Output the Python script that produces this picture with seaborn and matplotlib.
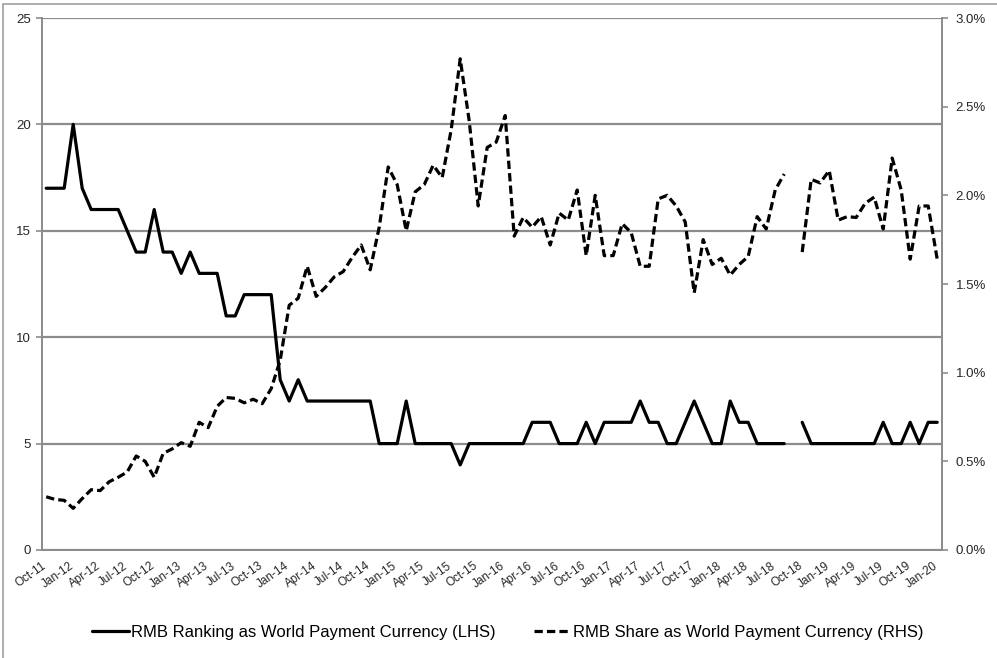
import numpy as np
import pandas as pd
import seaborn as sns
from matplotlib import pyplot as plt
from matplotlib.lines import Line2D
from matplotlib.patches import Rectangle
from matplotlib.ticker import FuncFormatter


# monthly data, Oct-11 .. Jan-20 (Sep-18 missing)
months = pd.date_range('2011-10-01', '2020-01-01', freq='MS')

rmb_ranking = [
    17, 17, 17, 20, 17, 16, 16, 16, 16, 15,
    14, 14, 16, 14, 14, 13, 14, 13, 13, 13,
    11, 11, 12, 12, 12, 12, 8, 7, 8, 7,
    7, 7, 7, 7, 7, 7, 7, 5, 5, 5,
    7, 5, 5, 5, 5, 5, 4, 5, 5, 5,
    5, 5, 5, 5, 6, 6, 6, 5, 5, 5,
    6, 5, 6, 6, 6, 6, 7, 6, 6, 5,
    5, 6, 7, 6, 5, 5, 7, 6, 6, 5,
    5, 5, 5, np.nan, 6, 5, 5, 5, 5, 5,
    5, 5, 5, 6, 5, 5, 6, 5, 6, 6,
]

rmb_share = [
    0.30, 0.285, 0.28, 0.235, 0.29, 0.34, 0.335, 0.385, 0.41, 0.44,
    0.53, 0.50, 0.41, 0.545, 0.57, 0.605, 0.585, 0.72, 0.69, 0.81,
    0.86, 0.855, 0.83, 0.85, 0.825, 0.91, 1.07, 1.38, 1.42, 1.60,
    1.43, 1.48, 1.54, 1.57, 1.65, 1.72, 1.58, 1.82, 2.16, 2.06,
    1.80, 2.02, 2.06, 2.17, 2.10, 2.37, 2.77, 2.42, 1.94, 2.27,
    2.30, 2.45, 1.77, 1.875, 1.82, 1.88, 1.72, 1.90, 1.86, 2.03,
    1.66, 2.00, 1.66, 1.66, 1.84, 1.79, 1.60, 1.60, 1.98, 2.00,
    1.94, 1.85, 1.45, 1.75, 1.61, 1.645, 1.55, 1.61, 1.655, 1.88,
    1.81, 2.03, 2.12, np.nan, 1.68, 2.09, 2.07, 2.14, 1.86, 1.88,
    1.875, 1.955, 1.99, 1.81, 2.21, 2.03, 1.64, 1.94, 1.94, 1.64,
]

tick_labels = [
    'Oct-11', 'Jan-12', 'Apr-12', 'Jul-12', 'Oct-12', 'Jan-13', 'Apr-13',
    'Jul-13', 'Oct-13', 'Jan-14', 'Apr-14', 'Jul-14', 'Oct-14', 'Jan-15',
    'Apr-15', 'Jul-15', 'Oct-15', 'Jan-16', 'Apr-16', 'Jul-16', 'Oct-16',
    'Jan-17', 'Apr-17', 'Jul-17', 'Oct-17', 'Jan-18', 'Apr-18', 'Jul-18',
    'Oct-18', 'Jan-19', 'Apr-19', 'Jul-19', 'Oct-19', 'Jan-20',
]

legend_labels = ['RMB Ranking as World Payment Currency (LHS)',
                 'RMB Share as World Payment Currency (RHS)']

GRAY = '#8c8c8c'
TEXT = '#262626'
DASH = (0, (2.6, 1.3))


def build_frame():
    df = pd.DataFrame({'month': months, 'ranking': rmb_ranking, 'share': rmb_share})
    df['idx'] = np.arange(len(df))
    # split into segments at the missing month so the gap stays open
    df['segment'] = df['ranking'].isna().cumsum()
    return df.dropna()


def main():
    sns.set_style('white')
    plt.rcParams['font.family'] = ['Liberation Sans', 'DejaVu Sans']

    df = build_frame()

    fig = plt.figure(figsize=(9.97, 6.58), dpi=100)
    ax = fig.add_axes([41.7 / 997, 108 / 658, 900 / 997, 532 / 658])
    ax2 = ax.twinx()

    sns.lineplot(data=df, x='idx', y='ranking', units='segment', estimator=None,
                 color='black', linewidth=2.3, legend=False, ax=ax)
    sns.lineplot(data=df, x='idx', y='share', units='segment', estimator=None,
                 color='black', linewidth=2.3, legend=False, ax=ax2)
    for ln in ax2.get_lines():
        ln.set_linestyle(DASH)
        ln.set_dash_capstyle('butt')

    ax.set_xlim(-0.5, 99.5)
    ax.set_ylim(0, 25)
    ax.set_yticks([0, 5, 10, 15, 20, 25])
    ax2.set_ylim(0, 3.0)
    ax2.set_yticks(np.arange(0, 3.01, 0.5))
    ax2.yaxis.set_major_formatter(FuncFormatter(lambda v, p: f'{v:.1f}%'))

    ax.set_xticks(np.arange(0, 100, 3) - 0.5)
    ax.set_xticklabels(tick_labels, rotation=35, ha='right', rotation_mode='anchor',
                       fontsize=8.5, color=TEXT)
    ax.tick_params(axis='x', length=4, width=1.2, color=GRAY, pad=3)
    ax.tick_params(axis='y', length=4, width=1.2, color=GRAY, labelsize=9.5,
                   labelcolor=TEXT, pad=4, left=True)
    ax2.tick_params(axis='y', length=4, width=1.2, color=GRAY, labelsize=9.5,
                    labelcolor=TEXT, pad=6, right=True)

    ax.set_xlabel('')
    ax.set_ylabel('')
    ax2.set_ylabel('')

    ax.yaxis.grid(True, color=GRAY, linewidth=1.6)
    ax.xaxis.grid(False)
    for a in (ax, ax2):
        for side in ('left', 'right', 'bottom', 'top'):
            a.spines[side].set_color(GRAY)
            a.spines[side].set_linewidth(1.3)
        a.spines['top'].set_visible(False)

    handles = [Line2D([], [], color='black', linewidth=2.3),
               Line2D([], [], color='black', linewidth=2.3,
                      linestyle=DASH, dash_capstyle='butt')]
    fig.legend(handles, legend_labels, loc='center', ncol=2,
               bbox_to_anchor=(508 / 997, 1 - 632 / 658), frameon=False,
               fontsize=12, handlelength=2.2, handletextpad=0.15,
               columnspacing=2.3, labelcolor='black')

    fig.patches.append(Rectangle((3 / 997, -0.02), 1.0, 1 - 4 / 658 + 0.02,
                                 transform=fig.transFigure, fill=False,
                                 edgecolor='#a0a0a0', linewidth=1.2))

    fig.savefig('out.png', dpi=100, facecolor='white')


if __name__ == '__main__':
    main()
